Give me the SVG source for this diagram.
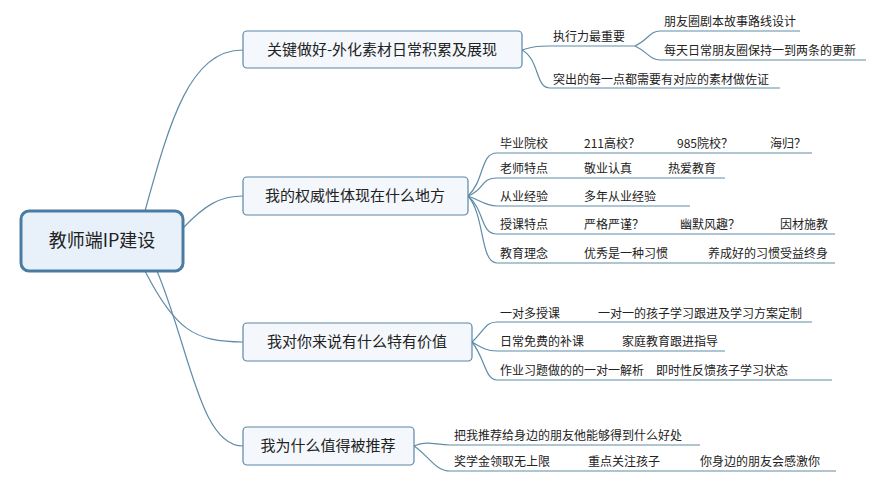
<svg xmlns="http://www.w3.org/2000/svg" width="886" height="483" viewBox="0 0 886 483">
<style>
text{font-family:"Noto Sans CJK SC","Liberation Sans",sans-serif;fill:#222}
.l{font-size:12px}
.b{font-size:15px;text-anchor:middle}
.c{fill:none;stroke:#5f8ca8;stroke-width:1.2}
.box{fill:#f4f8fc;stroke:#5a86a6;stroke-width:1.2}
</style>
<rect width="886" height="483" fill="#fff"/>
<g id="connectors" class="c">
<path d="M145 211 C170 120,190 50,243 50"/>
<path d="M183 228 C205 205,220 196,243 196"/>
<path d="M145 271 C175 330,195 342,243 342"/>
<path d="M157 271 C190 350,200 446,243 446"/>
<path d="M522 50 C535 46,540 46,548 46 L635 46"/>
<path d="M522 50 C540 60,535 88,550 88 L780 88"/>
<path d="M635 46 C648 40,650 31,660 31 L800 31"/>
<path d="M635 46 C648 52,650 60,660 60 L866 60"/>
<path d="M468 196 C485 180,480 153,497 153 L812 153"/>
<path d="M468 196 C485 190,480 178,497 178 L725 178"/>
<path d="M468 196 C480 200,485 206,497 206 L690 206"/>
<path d="M468 196 C485 210,480 234,497 234 L835 234"/>
<path d="M468 196 C485 215,480 263,497 263 L835 263"/>
<path d="M472 342 C485 330,485 322,497 322 L812 322"/>
<path d="M472 342 C482 348,487 351,497 351 L725 351"/>
<path d="M472 342 C485 358,485 380,497 380 L832 380"/>
<path d="M414 446 C428 440,435 445,450 445 L700 445"/>
<path d="M414 446 C428 455,435 471,450 471 L836 471"/>
</g>
<g id="root"><rect x="21" y="211" width="162" height="60" rx="8" fill="#e8f1fa" stroke="#4a7ca3" stroke-width="3"/><text x="102" y="247" font-size="18" text-anchor="middle">教师端IP建设</text></g>
<g id="n1"><rect class="box" x="243" y="31" width="279" height="37" rx="4"/><text class="b" x="382" y="55">关键做好-外化素材日常积累及展现</text></g>
<g id="n2"><rect class="box" x="243" y="177" width="225" height="38" rx="4"/><text class="b" x="355" y="201">我的权威性体现在什么地方</text></g>
<g id="n3"><rect class="box" x="243" y="323" width="229" height="38" rx="4"/><text class="b" x="357" y="347">我对你来说有什么特有价值</text></g>
<g id="n4"><rect class="box" x="243" y="427" width="171" height="38" rx="4"/><text class="b" x="328" y="451">我为什么值得被推荐</text></g>
<g id="leaves" class="l">
<text x="553" y="41">执行力最重要</text>
<text x="664" y="26">朋友圈剧本故事路线设计</text>
<text x="664" y="55">每天日常朋友圈保持一到两条的更新</text>
<text x="553" y="84">突出的每一点都需要有对应的素材做佐证</text>
<text x="500" y="148">毕业院校</text><text x="584" y="148">211高校？</text><text x="677" y="148">985院校？</text><text x="770" y="148">海归？</text>
<text x="500" y="173">老师特点</text><text x="584" y="173">敬业认真</text><text x="668" y="173">热爱教育</text>
<text x="500" y="201">从业经验</text><text x="584" y="201">多年从业经验</text>
<text x="500" y="229">授课特点</text><text x="584" y="229">严格严谨？</text><text x="680" y="229">幽默风趣？</text><text x="780" y="229">因材施教</text>
<text x="500" y="258">教育理念</text><text x="584" y="258">优秀是一种习惯</text><text x="708" y="258">养成好的习惯受益终身</text>
<text x="500" y="318">一对多授课</text><text x="598" y="318">一对一的孩子学习跟进及学习方案定制</text>
<text x="500" y="346">日常免费的补课</text><text x="622" y="346">家庭教育跟进指导</text>
<text x="500" y="375">作业习题做的的一对一解析</text><text x="656" y="375">即时性反馈孩子学习状态</text>
<text x="454" y="440">把我推荐给身边的朋友他能够得到什么好处</text>
<text x="454" y="466">奖学金领取无上限</text><text x="588" y="466">重点关注孩子</text><text x="700" y="466">你身边的朋友会感激你</text>
</g>
</svg>
